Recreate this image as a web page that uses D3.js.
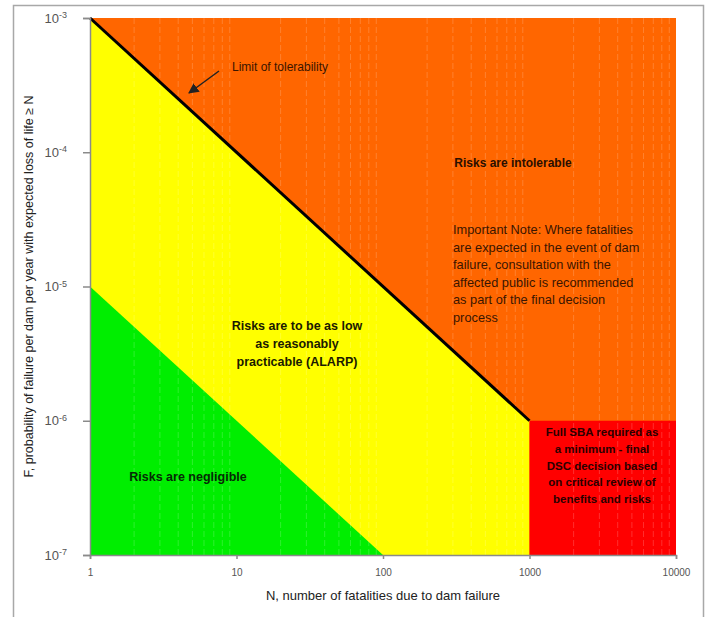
<!DOCTYPE html>
<html>
<head>
<meta charset="utf-8">
<script src="https://cdn.jsdelivr.net/npm/d3@7"></script>
<style>
  body { margin: 0; background: #fff; }
  text { font-family: "Liberation Sans", Arial, sans-serif; }
</style>
</head>
<body>
<script>
var width = 709;
var height = 617;

var margin = {top: 18, left: 90, right: 33, bottom: 62};

// axis ticks
var xTicks = [1, 10, 100, 1000, 10000];
var yExponents = [-3, -4, -5, -6, -7];

// region outlines as [N, F] points
var limitLine = [[1, 1e-3], [1000, 1e-6]];
var alarpZone = [[1, 1e-3], [1000, 1e-6], [1000, 1e-7], [1, 1e-7]];
var negligibleZone = [[1, 1e-5], [100, 1e-7], [1, 1e-7]];
var sbaZone = [[1000, 1e-7], [10000, 1e-7], [10000, 1e-6], [1000, 1e-6]];

// minor gridline positions
var minorX = [];
[1, 10, 100, 1000].forEach(function(d) {
  [2, 3, 4, 5, 6, 7, 8, 9].forEach(function(m) { minorX.push(m * d); });
});

var svg = d3.select("body")
  .append("svg")
  .attr("width", width)
  .attr("height", height);

// outer frame
svg.append("path")
  .attr("d", "M13.5," + height + "V5.5H703.5V" + height)
  .attr("fill", "none")
  .attr("stroke", "#a8a8a8")
  .attr("stroke-width", 1.5);

var xScale = d3.scaleLog()
  .domain([1, 10000])
  .range([margin.left, width - margin.right]);

var yScale = d3.scaleLog()
  .domain([1e-7, 1e-3])
  .range([height - margin.bottom, margin.top]);

var line = d3.line()
  .x(function(d) { return xScale(d[0]); })
  .y(function(d) { return yScale(d[1]); });

// intolerable background
svg.append("rect")
  .attr("x", xScale(1))
  .attr("y", yScale(1e-3))
  .attr("width", xScale(10000) - xScale(1))
  .attr("height", yScale(1e-7) - yScale(1e-3))
  .attr("fill", "#ff6600");

svg.append("path").attr("d", line(alarpZone) + "Z").attr("fill", "#ffff00");
svg.append("path").attr("d", line(negligibleZone) + "Z").attr("fill", "#00ee00");
svg.append("path").attr("d", line(sbaZone) + "Z").attr("fill", "#ff0000");

// faint dashed minor gridlines
svg.selectAll(".minor")
  .data(minorX)
  .enter()
  .append("line")
    .attr("class", "minor")
    .attr("x1", function(d) { return xScale(d); })
    .attr("x2", function(d) { return xScale(d); })
    .attr("y1", yScale(1e-3))
    .attr("y2", yScale(1e-7))
    .attr("stroke", "#ffffff")
    .attr("stroke-opacity", 0.18)
    .attr("stroke-dasharray", "6,3");

// limit of tolerability
svg.append("path")
  .attr("d", line(limitLine))
  .attr("fill", "none")
  .attr("stroke", "#000")
  .attr("stroke-width", 3);

// axes
var xAxis = svg.append("g")
  .attr("transform", "translate(0," + (height - margin.bottom) + ")")
  .call(d3.axisBottom(xScale).tickValues(xTicks).tickSize(4).tickPadding(10)
    .tickFormat(d3.format("d")));

var yAxis = svg.append("g")
  .attr("transform", "translate(" + margin.left + ",0)")
  .call(d3.axisLeft(yScale).tickValues(yExponents.map(function(e) { return Math.pow(10, e); }))
    .tickSize(7).tickPadding(16).tickFormat(""));

[xAxis, yAxis].forEach(function(a) {
  a.select(".domain").attr("stroke", "#8a8a8a").attr("stroke-width", 1.5);
  a.selectAll(".tick line").attr("stroke", "#8a8a8a").attr("stroke-width", 1.5);
});
xAxis.selectAll(".tick text")
  .attr("fill", "#555")
  .style("font-size", "10px");

yAxis.selectAll(".tick text")
  .data(yExponents)
  .attr("fill", "#555")
  .style("font-size", "13px")
  .text(null)
  .each(function(e) {
    var t = d3.select(this);
    t.append("tspan").text("10");
    t.append("tspan").attr("dy", "-0.5em").style("font-size", "9px").text(e);
  });

// axis titles
svg.append("text")
  .attr("x", (xScale(1) + xScale(10000)) / 2)
  .attr("y", 600)
  .attr("text-anchor", "middle")
  .attr("fill", "#222")
  .style("font-size", "13px")
  .text("N, number of fatalities due to dam failure");

svg.append("text")
  .attr("transform", "translate(33," + ((yScale(1e-3) + yScale(1e-7)) / 2) + ") rotate(-90)")
  .attr("text-anchor", "middle")
  .attr("fill", "#222")
  .style("font-size", "12.5px")
  .text("F, probability of failure per dam per year with expected loss of life \u2265 N");

// annotations
function label(x, y, lines, opts) {
  var t = svg.append("text")
    .attr("x", x)
    .attr("y", y)
    .attr("text-anchor", opts.anchor || "middle")
    .attr("fill", opts.color || "#111")
    .style("font-size", opts.size || "12px")
    .style("font-weight", opts.bold ? "bold" : "normal");
  lines.forEach(function(s, i) {
    t.append("tspan").attr("x", x).attr("dy", i === 0 ? 0 : opts.lh).text(s);
  });
}

label(232, 71, ["Limit of tolerability"], {anchor: "start", color: "#3a1500", size: "12px"});

svg.append("defs").append("marker")
  .attr("id", "arrow")
  .attr("viewBox", "0 0 10 10")
  .attr("refX", 9).attr("refY", 5)
  .attr("markerWidth", 7).attr("markerHeight", 7)
  .attr("orient", "auto")
  .append("path").attr("d", "M0,0L10,5L0,10Z").attr("fill", "#222");

svg.append("line")
  .attr("x1", 219).attr("y1", 71)
  .attr("x2", 189).attr("y2", 93)
  .attr("stroke", "#222")
  .attr("stroke-width", 1.5)
  .attr("marker-end", "url(#arrow)");

label(513, 167, ["Risks are intolerable"], {bold: true, color: "#2a0f00", size: "12px"});

label(453, 234, [
  "Important Note: Where fatalities",
  "are expected in the event of dam",
  "failure, consultation with the",
  "affected public is recommended",
  "as part of the final decision",
  "process"
], {anchor: "start", color: "#3a1500", size: "12.8px", lh: 17.5});

label(297, 330, [
  "Risks are to be as low",
  "as reasonably",
  "practicable (ALARP)"
], {bold: true, color: "#1a1a00", size: "12.5px", lh: 18});

label(188, 481, ["Risks are negligible"], {bold: true, color: "#062a06", size: "12.5px"});

label(602, 436, [
  "Full SBA required as",
  "a minimum - final",
  "DSC decision based",
  "on critical review of",
  "benefits and risks"
], {bold: true, color: "#2a0000", size: "11.5px", lh: 16.8});
</script>
</body>
</html>
